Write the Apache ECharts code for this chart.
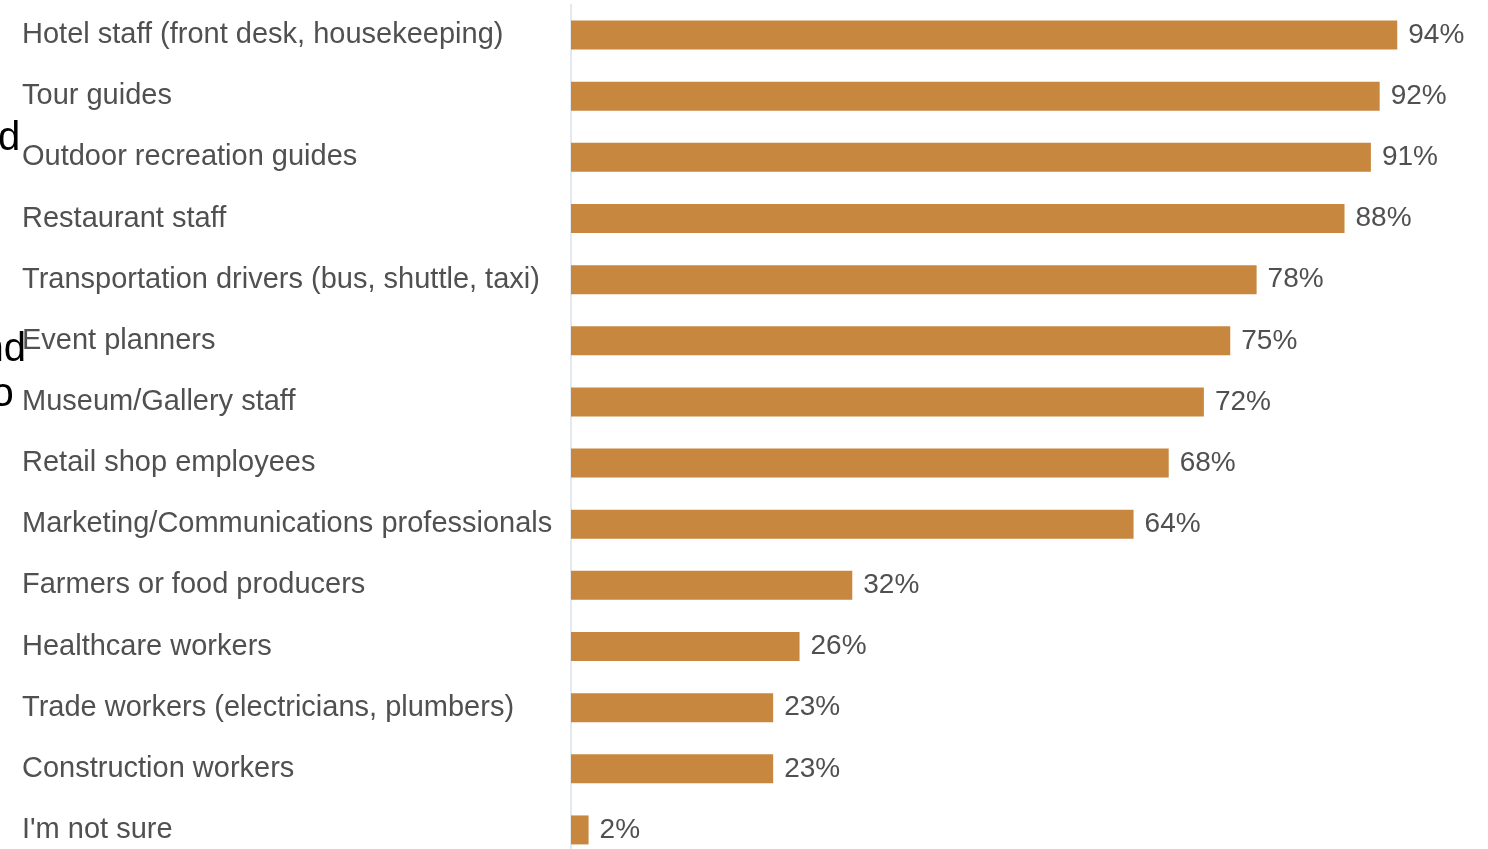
<!DOCTYPE html>
<html>
<head>
<meta charset="utf-8">
<script src="https://cdn.jsdelivr.net/npm/echarts@6/dist/echarts.min.js"></script>
<style>
html,body{margin:0;padding:0;background:#fff;}
#chart{width:1488px;height:849px;}
</style>
</head>
<body>
<div id="chart"></div>
<script>
const categories = [
  "Hotel staff (front desk, housekeeping)",
  "Tour guides",
  "Outdoor recreation guides",
  "Restaurant staff",
  "Transportation drivers (bus, shuttle, taxi)",
  "Event planners",
  "Museum/Gallery staff",
  "Retail shop employees",
  "Marketing/Communications professionals",
  "Farmers or food producers",
  "Healthcare workers",
  "Trade workers (electricians, plumbers)",
  "Construction workers",
  "I'm not sure"
];
const values = [94, 92, 91, 88, 78, 75, 72, 68, 64, 32, 26, 23, 23, 2];
const edgeFragments = ["d", "nd", "o"];

const chart = echarts.init(document.getElementById('chart'), null, {renderer: 'canvas'});
const font = "'Liberation Sans', Arial, sans-serif";
chart.setOption({
  animation: false,
  backgroundColor: '#ffffff',
  grid: {left: 571, width: 879, top: 4.5, height: 856, containLabel: false, outerBoundsMode: 'none'},
  xAxis: {
    type: 'value', min: 0, max: 100, show: false,
    splitLine: {show: false}
  },
  yAxis: {
    type: 'category', data: categories, inverse: true,
    axisTick: {show: false},
    axisLine: {show: true, lineStyle: {color: '#e4e9ef', width: 2}},
    axisLabel: {
      align: 'left', margin: 549,
      color: '#505050', fontSize: 29, fontFamily: font
    }
  },
  series: [{
    type: 'bar',
    data: values,
    barWidth: 29,
    itemStyle: {color: '#c8873f'},
    label: {
      show: true, position: 'right', distance: 11,
      formatter: '{c}%',
      color: '#505050', fontSize: 28, fontFamily: font
    }
  }],
  graphic: [
    {type: 'text', x: -2, y: 139, style: {text: edgeFragments[0], font: "40px 'Liberation Sans', Arial, sans-serif", fill: '#000', textVerticalAlign: 'middle'}},
    {type: 'text', x: -18.5, y: 350, style: {text: edgeFragments[1], font: "40px 'Liberation Sans', Arial, sans-serif", fill: '#000', textVerticalAlign: 'middle'}},
    {type: 'text', x: -8.5, y: 395, style: {text: edgeFragments[2], font: "40px 'Liberation Sans', Arial, sans-serif", fill: '#000', textVerticalAlign: 'middle'}}
  ]
});
</script>
</body>
</html>
